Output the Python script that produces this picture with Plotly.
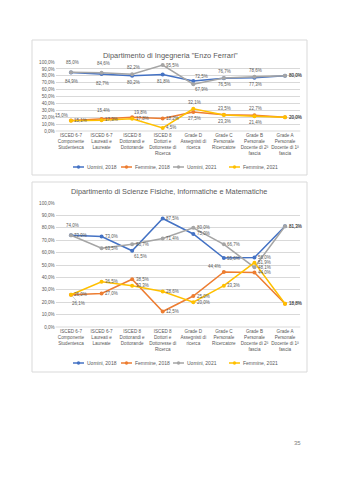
import plotly.graph_objects as go

W, H = 339, 480

categories = [
    "ISCED 6-7<br>Componente<br>Studentesca",
    "ISCED 6-7<br>Laureati e<br>Laureate",
    "ISCED 8<br>Dottorandi e<br>Dottorande",
    "ISCED 8<br>Dottori e<br>Dottoresse di<br>Ricerca",
    "Grade D<br>Assegnisti di<br>ricerca",
    "Grade C<br>Personale<br>Ricercatore",
    "Grade B<br>Personale<br>Docente di 2ª<br>fascia",
    "Grade A<br>Personale<br>Docente di 1ª<br>fascia",
]
series_names = ["Uomini, 2018", "Femmine, 2018", "Uomini, 2021", "Femmine, 2021"]

# Chart 1: Ingegneria "Enzo Ferrari"
ing_uomini_2018 = [84.9, 82.7, 80.2, 81.8, 72.5, 76.5, 77.3, 80.0]
ing_femmine_2018 = [15.1, 17.3, 19.8, 18.2, 27.5, 23.5, 22.7, 20.0]
ing_uomini_2021 = [85.0, 84.6, 82.2, 95.5, 67.9, 76.7, 78.6, 80.0]
ing_femmine_2021 = [15.0, 15.4, 17.8, 4.5, 32.1, 23.3, 21.4, 20.0]

# Chart 2: Scienze Fisiche, Informatiche e Matematiche
fim_uomini_2018 = [73.9, 73.0, 61.5, 87.5, 75.0, 55.6, 56.0, 81.3]
fim_femmine_2018 = [26.1, 27.0, 38.5, 12.5, 25.0, 44.4, 44.0, 18.8]
fim_uomini_2021 = [74.0, 63.5, 66.7, 71.4, 80.0, 66.7, 48.1, 81.3]
fim_femmine_2021 = [26.0, 36.5, 33.3, 28.6, 20.0, 33.3, 51.9, 18.8]

y_ticks = list(range(0, 101, 10))

colors = ["#4472C4", "#ED7D31", "#A5A5A5", "#FFC000"]
TXT = "#595959"
FONT = "Liberation Sans"
LBL = 4.5

# label placement: (xanchor, yanchor, xshift, yshift)
PL = {
    "R": ("left", "middle", 2.5, 0),
    "T": ("center", "bottom", 1, 3),
    "TT": ("center", "bottom", 2, 6),
    "B": ("center", "top", 1, -3),
    "BB": ("center", "top", 1, -6),
    "TR": ("left", "bottom", 1, 1),
    "BR": ("left", "top", 1, -2),
    "TL": ("right", "bottom", -2, 2),
    "LEAD": None,
}
pos1 = [
    ["BB", "BB", "B", "B", "TR", "B", "B", "R"],      # Uomini 2018
    ["R", "R", "TR", "R", "B", "T", "T", "R"],        # Femmine 2018
    ["TT", "TT", "T", "R", "BR", "T", "T", "R"],      # Uomini 2021
    ["TL", "TT", "R", "R", "T", "B", "B", "R"],       # Femmine 2021
]
pos2 = [
    ["R", "R", "BR", "R", "R", "R", "R", "R"],
    ["LEAD", "R", "R", "R", "R", "TL", "R", "R"],
    ["TT", "R", "R", "R", "R", "R", "R", "R"],
    ["R", "R", "R", "R", "R", "R", "R", "R"],
]


def px_x(v):
    return v / W


def px_y(v):
    return 1 - v / H


def fmt(v):
    return f"{v:.1f}%".replace(".", ",")


fig = go.Figure()

charts = [
    dict(data=[ing_uomini_2018, ing_femmine_2018, ing_uomini_2021, ing_femmine_2021],
         pos=pos1, xa="x", ya="y"),
    dict(data=[fim_uomini_2018, fim_femmine_2018, fim_uomini_2021, fim_femmine_2021],
         pos=pos2, xa="x2", ya="y2"),
]

for c in charts:
    for i, (name, vals) in enumerate(zip(series_names, c["data"])):
        fig.add_trace(go.Scatter(
            x=categories, y=vals, name=name, mode="lines+markers",
            line=dict(color=colors[i], width=1.5),
            marker=dict(color=colors[i], size=4),
            xaxis=c["xa"], yaxis=c["ya"], showlegend=False, hoverinfo="skip",
        ))
    for i, vals in enumerate(c["data"]):
        for j, v in enumerate(vals):
            p = c["pos"][i][j]
            if p == "LEAD":
                fig.add_annotation(
                    x=categories[j], y=v, xref=c["xa"], yref=c["ya"], text=fmt(v),
                    showarrow=True, arrowhead=0, arrowwidth=0.5, arrowcolor="#A6A6A6",
                    ax=8, ay=9, standoff=2, startstandoff=0,
                    font=dict(size=LBL, color=TXT, family=FONT), borderpad=0)
            else:
                xa_, ya_, xs, ys = PL[p]
                fig.add_annotation(
                    x=categories[j], y=v, xref=c["xa"], yref=c["ya"], text=fmt(v),
                    showarrow=False, xanchor=xa_, yanchor=ya_, xshift=xs, yshift=ys,
                    font=dict(size=LBL, color=TXT, family=FONT), borderpad=0)

xdom = [px_x(55.7), px_x(300.3)]
axis_common = dict(showline=False, ticks="", tickangle=0, automargin=False,
                   tickfont=dict(size=4.6, color=TXT, family=FONT))
yaxis_common = dict(range=[0, 100], tickvals=y_ticks, ticktext=[fmt(v) for v in y_ticks],
                    showgrid=True, gridcolor="#D9D9D9", gridwidth=0.7, zeroline=False,
                    ticks="", automargin=False,
                    tickfont=dict(size=4.6, color=TXT, family=FONT))

fig.update_layout(
    width=W, height=H, margin=dict(l=0, r=0, t=0, b=0),
    paper_bgcolor="white", plot_bgcolor="white",
    font=dict(family=FONT, color=TXT),
    xaxis=dict(domain=xdom, anchor="y", range=[-0.5, 7.5], showgrid=False, **axis_common),
    yaxis=dict(domain=[px_y(131), px_y(62)], anchor="x", **yaxis_common),
    xaxis2=dict(domain=xdom, anchor="y2", range=[-0.5, 7.5], showgrid=False, **axis_common),
    yaxis2=dict(domain=[px_y(327), px_y(203)], anchor="x2", **yaxis_common),
    showlegend=False,
)

# Baseline axis lines at 0
for y0 in [131, 327]:
    fig.add_shape(type="line", xref="paper", yref="paper",
                  x0=xdom[0], x1=xdom[1], y0=px_y(y0), y1=px_y(y0),
                  line=dict(color="#D9D9D9", width=1))

# Chart frames
for top, bottom in [(40, 175), (182, 372)]:
    fig.add_shape(type="rect", xref="paper", yref="paper",
                  x0=px_x(32), x1=px_x(307), y0=px_y(bottom), y1=px_y(top),
                  line=dict(color="#D9D9D9", width=1), fillcolor="rgba(0,0,0,0)", layer="below")

# Manual legends (line + marker + label)
legend_x = [73, 121, 173, 229]
for ly in [167, 363]:
    for i, name in enumerate(series_names):
        x0 = legend_x[i]
        fig.add_shape(type="line", xref="paper", yref="paper",
                      x0=px_x(x0), x1=px_x(x0 + 11), y0=px_y(ly), y1=px_y(ly),
                      line=dict(color=colors[i], width=1.5))
        r = 1.7
        fig.add_shape(type="circle", xref="paper", yref="paper",
                      x0=px_x(x0 + 5.5 - r), x1=px_x(x0 + 5.5 + r),
                      y0=px_y(ly + r), y1=px_y(ly - r),
                      line=dict(color=colors[i], width=0), fillcolor=colors[i])
        fig.add_annotation(text=name, xref="paper", yref="paper", x=px_x(x0 + 12.5),
                           y=px_y(ly), xanchor="left", yanchor="middle", showarrow=False,
                           font=dict(size=5, color=TXT, family=FONT), borderpad=0)

fig.add_annotation(text='Dipartimento di Ingegneria "Enzo Ferrari"', xref="paper", yref="paper",
                   x=px_x(170), y=px_y(49), showarrow=False,
                   font=dict(size=7.4, color=TXT, family=FONT))
fig.add_annotation(text="Dipartimento di Scienze Fisiche, Informatiche e Matematiche",
                   xref="paper", yref="paper", x=px_x(169), y=px_y(191), showarrow=False,
                   font=dict(size=7.3, color=TXT, family=FONT))
fig.add_annotation(text="35", xref="paper", yref="paper", x=px_x(303), y=px_y(448),
                   showarrow=False, font=dict(size=6, color="#808080", family=FONT))

fig.write_html("out.html")
